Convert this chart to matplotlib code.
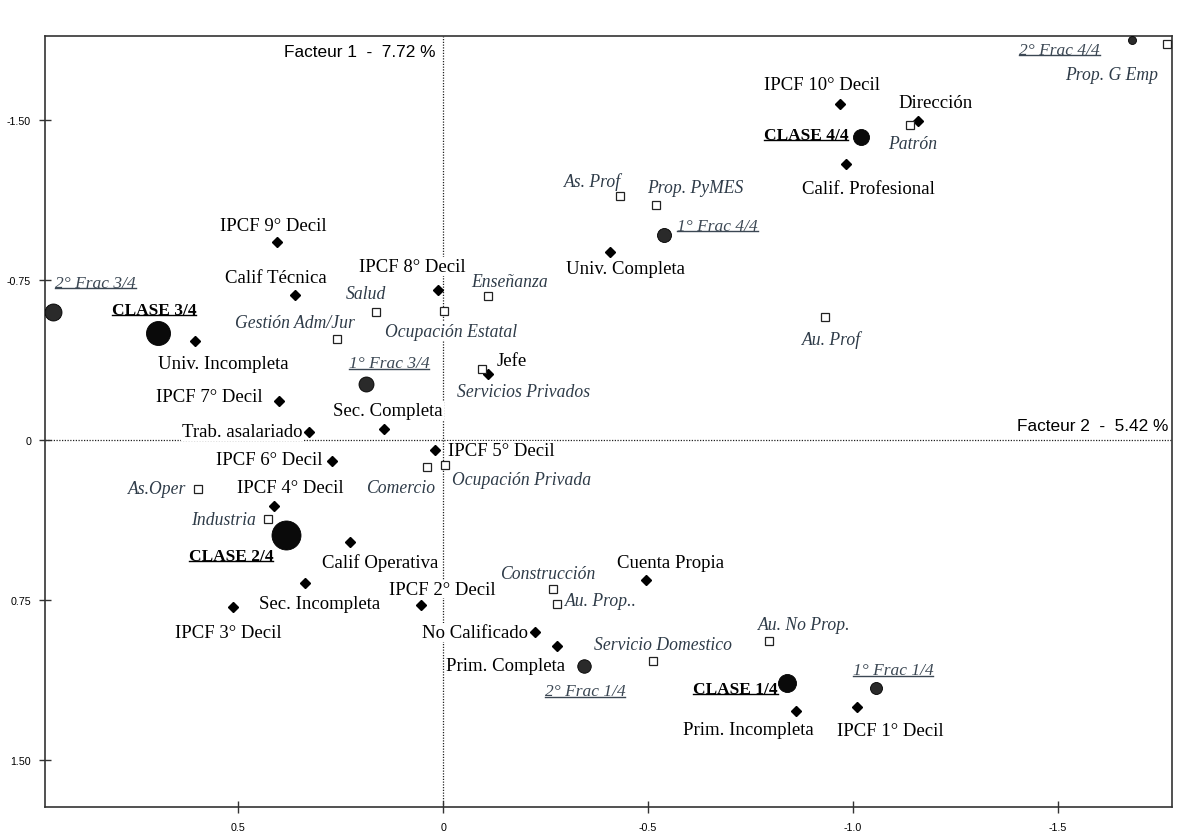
import matplotlib
matplotlib.use("Agg")
import matplotlib.pyplot as plt
from matplotlib.lines import Line2D

# ---- active variables (filled diamonds) ----
var_names = ["IPCF 10° Decil", "Dirección", "Calif. Profesional", "Univ. Completa",
             "IPCF 9° Decil", "Calif Técnica", "IPCF 8° Decil", "Univ. Incompleta",
             "Jefe", "IPCF 7° Decil", "Sec. Completa", "Trab. asalariado",
             "IPCF 5° Decil", "IPCF 6° Decil", "IPCF 4° Decil", "Calif Operativa",
             "Sec. Incompleta", "IPCF 3° Decil", "IPCF 2° Decil", "Cuenta Propia",
             "No Calificado", "Prim. Completa", "Prim. Incompleta", "IPCF 1° Decil"]
var_x = [-0.968, -1.159, -0.983, -0.407, 0.405, 0.361, 0.012, 0.605,
         -0.110, 0.400, 0.144, 0.327, 0.020, 0.271, 0.412, 0.227,
         0.337, 0.512, 0.054, -0.495, -0.224, -0.278, -0.861, -1.010]
var_y = [-1.574, -1.494, -1.293, -0.881, -0.927, -0.679, -0.703, -0.464,
         -0.309, -0.183, -0.052, -0.037, 0.047, 0.098, 0.309, 0.478,
         0.670, 0.782, 0.773, 0.656, 0.899, 0.965, 1.269, 1.251]

# ---- supplementary variables (open squares) ----
sup_names = ["Prop. G Emp", "Patrón", "As. Prof", "Prop. PyMES", "Enseñanza", "Salud",
             "Ocupación Estatal", "Gestión Adm/Jur", "Au. Prof", "Servicios Privados",
             "Comercio", "Ocupación Privada", "As.Oper", "Industria", "Construcción",
             "Au. Prop..", "Au. No Prop.", "Servicio Domestico"]
sup_x = [-1.766, -1.139, -0.432, -0.520, -0.110, 0.163, -0.002, 0.259, -0.932,
         -0.095, 0.039, -0.005, 0.598, 0.427, -0.268, -0.278, -0.795, -0.512]
sup_y = [-1.855, -1.475, -1.143, -1.101, -0.674, -0.600, -0.604, -0.473, -0.576,
         -0.333, 0.126, 0.117, 0.230, 0.370, 0.698, 0.768, 0.941, 1.035]

# ---- classes and fractions (circles) ----
cls_names = ["CLASE 4/4", "1° Frac 4/4", "2° Frac 4/4", "CLASE 3/4", "2° Frac 3/4",
             "1° Frac 3/4", "CLASE 2/4", "CLASE 1/4", "1° Frac 1/4", "2° Frac 1/4"]
cls_x = [-1.020, -0.539, -1.680, 0.695, 0.951, 0.188, 0.383, -0.839, -1.056, -0.344]
cls_y = [-1.419, -0.960, -1.874, -0.501, -0.600, -0.262, 0.445, 1.138, 1.162, 1.059]
cls_weight = [16, 14, 8, 24, 17, 15, 29, 18, 12, 13.5]

# label offsets in pixels (dx, dy downward, ha)
OFF = {
    "IPCF 10° Decil": (-18, -19, "center"), "Dirección": (17, -18, "center"),
    "Calif. Profesional": (22, 25, "center"), "Univ. Completa": (16, 17, "center"),
    "IPCF 9° Decil": (-4, -17, "center"), "Calif Técnica": (-19, -17, "center"),
    "IPCF 8° Decil": (-26, -23, "center"), "Univ. Incompleta": (28, 23, "center"),
    "Jefe": (8, -13, "left"), "IPCF 7° Decil": (-16, -4, "right"),
    "Sec. Completa": (4, -18, "center"), "Trab. asalariado": (-7, -1, "right"),
    "IPCF 5° Decil": (13, 0, "left"), "IPCF 6° Decil": (-9, -1, "right"),
    "IPCF 4° Decil": (16, -18, "center"), "Calif Operativa": (30, 20, "center"),
    "Sec. Incompleta": (15, 20, "center"), "IPCF 3° Decil": (-5, 26, "center"),
    "IPCF 2° Decil": (21, -16, "center"), "Cuenta Propia": (25, -18, "center"),
    "No Calificado": (-7, 1, "right"), "Prim. Completa": (-51, 19, "center"),
    "Prim. Incompleta": (-48, 19, "center"), "IPCF 1° Decil": (33, 23, "center"),
    "Prop. G Emp": (-55, 31, "center"), "Patrón": (3, 18, "center"),
    "As. Prof": (-28, -15, "center"), "Prop. PyMES": (39, -17, "center"),
    "Enseñanza": (21, -15, "center"), "Salud": (-10, -18, "center"),
    "Ocupación Estatal": (7, 20, "center"), "Gestión Adm/Jur": (-42, -16, "center"),
    "Au. Prof": (6, 22, "center"), "Servicios Privados": (42, 23, "center"),
    "Comercio": (-27, 21, "center"), "Ocupación Privada": (7, 15, "left"),
    "As.Oper": (-12, -1, "right"), "Industria": (-12, 1, "right"),
    "Construcción": (-5, -16, "center"), "Au. Prop..": (8, -3, "left"),
    "Au. No Prop.": (35, -16, "center"), "Servicio Domestico": (10, -16, "center"),
    "CLASE 4/4": (-13, -2, "right"), "1° Frac 4/4": (13, -9, "left"),
    "2° Frac 4/4": (-32, 10, "right"), "CLASE 3/4": (-4, -23, "center"),
    "2° Frac 3/4": (2, -29, "left"), "1° Frac 3/4": (23, -21, "center"),
    "CLASE 2/4": (-55, 21, "center"), "CLASE 1/4": (-9, 6, "right"),
    "1° Frac 1/4": (17, -18, "center"), "2° Frac 1/4": (1, 25, "center"),
}

SERIF = "Liberation Serif"
SANS = "Liberation Sans"
SUP_C = "#2e3b48"
FRAC_C = "#3b4753"
WHITE_BOX = dict(boxstyle="square,pad=0.05", fc="white", ec="none")

fig = plt.figure(figsize=(11.81, 8.37), dpi=100)
ax = fig.add_axes([45 / 1181, 1 - 808 / 837, 1127 / 1181, 771 / 837])

ax.set_xlim(0.971, -1.778)
ax.set_ylim(1.719, -1.892)

ax.axhline(0, color="#222222", lw=0.9, ls=(0, (1, 1.2)), zorder=1)
ax.axvline(0, color="#222222", lw=0.9, ls=(0, (1, 1.2)), zorder=1)


def label(name, x, y, **kw):
    dx, dy, ha = OFF[name]
    return ax.annotate(name, (x, y), xytext=(dx, -dy), textcoords="offset pixels",
                       ha=ha, va="center", bbox=WHITE_BOX, zorder=3, **kw)


ax.plot(var_x, var_y, "D", ms=5.2, color="black", zorder=4, ls="none")
for n, x, y in zip(var_names, var_x, var_y):
    label(n, x, y, fontsize=13.5, family=SERIF, color="black")

ax.plot(sup_x, sup_y, "s", ms=5.3, mfc="white", mec="#222222", mew=0.9, zorder=4, ls="none")
for n, x, y in zip(sup_names, sup_x, sup_y):
    label(n, x, y, fontsize=12.7, family=SERIF, style="italic", color=SUP_C)

underlined = []
for n, x, y, w in zip(cls_names, cls_x, cls_y, cls_weight):
    is_cls = n.startswith("CLASE")
    ax.plot([x], [y], "o", ms=w / 1.389, color="#0a0a0a" if is_cls else "#2a2a2a",
            mec="black", mew=0.6, zorder=5)
    if is_cls:
        t = label(n, x, y, fontsize=12.5, family=SERIF, weight="bold", color="black")
        underlined.append((t, "black"))
    else:
        t = label(n, x, y, fontsize=12.5, family=SERIF, style="italic", color=FRAC_C)
        underlined.append((t, FRAC_C))

ax.annotate("Facteur 1  -  7.72 %", (0, -1.892), xytext=(-8, -15), textcoords="offset pixels",
            ha="right", va="center", fontsize=12.4, family=SANS, color="black")
ax.annotate("Facteur 2  -  5.42 %", (-1.778, 0), xytext=(-4, 14), textcoords="offset pixels",
            ha="right", va="center", fontsize=12.4, family=SANS, color="black")

ax.set_xticks([0.5, 0, -0.5, -1.0, -1.5])
ax.set_xticklabels(["0.5", "0", "-0.5", "-1.0", "-1.5"])
ax.set_yticks([-1.5, -0.75, 0, 0.75, 1.5])
ax.set_yticklabels(["-1.50", "-0.75", "0", "0.75", "1.50"])
ax.tick_params(direction="inout", length=8, width=1, color="#333333",
               labelsize=7.7, labelcolor="black")
ax.tick_params(axis="x", pad=7)
ax.tick_params(axis="y", pad=6)
for lab in ax.get_xticklabels() + ax.get_yticklabels():
    lab.set_family(SANS)
for s in ax.spines.values():
    s.set_color("#333333")
    s.set_linewidth(1.2)

# underline class / fraction labels
fig.canvas.draw()
r = fig.canvas.get_renderer()
inv = fig.transFigure.inverted()
for t, c in underlined:
    bb = t.get_window_extent(r)
    (x0, y0), (x1, _) = inv.transform([(bb.x0, bb.y0 + 2.5), (bb.x1, bb.y0 + 2.5)])
    fig.add_artist(Line2D([x0, x1], [y0, y0], transform=fig.transFigure,
                          color=c, lw=1.0, zorder=6))

fig.savefig("out.png", dpi=100)
